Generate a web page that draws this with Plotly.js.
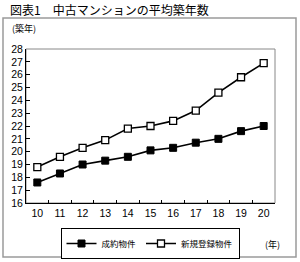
<!DOCTYPE html>
<html><head><meta charset="utf-8">
<script src="https://cdn.plot.ly/plotly-3.0.1.min.js"></script>
<style>html,body{margin:0;padding:0;background:#fff}#c{width:300px;height:262px}</style>
</head><body><div id="c"></div>
<script>
const years = ["10","11","12","13","14","15","16","17","18","19","20"];
const seiyaku = [17.6, 18.3, 19.0, 19.3, 19.6, 20.1, 20.3, 20.7, 21.0, 21.6, 22.0];
const shinki = [18.8, 19.6, 20.3, 20.9, 21.8, 22.0, 22.4, 23.2, 24.6, 25.8, 26.9];
const names = ["成約物件", "新規登録物件"];
const yTicks = [16,17,18,19,20,21,22,23,24,25,26,27,28];
const FONT = '"Noto Sans CJK JP", sans-serif';
const NUMFONT = '"Liberation Sans", Arial, sans-serif';

const traces = [
  {x: years, y: seiyaku, name: names[0], type: 'scatter', mode: 'lines+markers',
   line: {color: '#000', width: 1.6},
   marker: {symbol: 'square', size: 7, color: '#000', line: {color: '#000', width: 1}}},
  {x: years, y: shinki, name: names[1], type: 'scatter', mode: 'lines+markers',
   line: {color: '#000', width: 1.6},
   marker: {symbol: 'square', size: 7, color: '#fff', line: {color: '#000', width: 1.3}}}
];

// frame box in pixels
const FL = 3, FT = 18, FR = 296, FB = 257;
// plot area in pixels
const PL = 26, PT = 49, PR = 275, PB = 203;
const fx = v => (v - FL) / (FR - FL);
const fy = v => (FB - v) / (FB - FT);

const layout = {
  width: 300, height: 262,
  margin: {l: FL, r: 300 - FR, t: FT, b: 262 - FB, autoexpand: false},
  paper_bgcolor: '#fff', plot_bgcolor: '#fff',
  font: {family: FONT, size: 10, color: '#000'},
  showlegend: true,
  legend: {orientation: 'h', xref: 'container', yref: 'container',
    x: 150 / 300, xanchor: 'center', y: 1 - 228 / 262, yanchor: 'top',
    bordercolor: '#000', borderwidth: 1, font: {size: 8.5, family: FONT},
    itemwidth: 30, tracegroupgap: 0},
  xaxis: {type: 'category', range: [-0.5, 10.5], domain: [fx(PL), fx(PR)],
    showgrid: false, zeroline: false, automargin: false,
    showline: true, linecolor: '#000', linewidth: 1, ticks: 'inside', ticklen: 3,
    tickcolor: '#000', tickson: 'boundaries', tickfont: {size: 10.5, family: NUMFONT},
    fixedrange: true},
  yaxis: {range: [16, 28], tickvals: yTicks, domain: [fy(PB), fy(PT)],
    showgrid: false, zeroline: false, automargin: false,
    showline: true, linecolor: '#000', linewidth: 1, ticks: 'inside', ticklen: 4,
    tickcolor: '#000', tickfont: {size: 10.5, family: NUMFONT}, fixedrange: true},
  shapes: [
    {type: 'rect', xref: 'x domain', yref: 'y domain', x0: 0, x1: 1, y0: 0, y1: 1,
     line: {color: '#888', width: 1}, layer: 'below'},
    {type: 'rect', xref: 'paper', yref: 'paper', x0: 0, x1: 1, y0: 0, y1: 1,
     line: {color: '#9a9a9a', width: 1.5}, layer: 'above'}
  ],
  annotations: [
    {text: '図表1　中古マンションの平均築年数', xref: 'paper', yref: 'paper',
     x: fx(8), y: fy(10), xanchor: 'left', yanchor: 'middle', showarrow: false,
     font: {size: 12, family: FONT, color: '#000'}},
    {text: '(築年)', xref: 'paper', yref: 'paper',
     x: fx(10), y: fy(29), xanchor: 'left', yanchor: 'middle', showarrow: false,
     font: {size: 9, family: FONT, color: '#000'}},
    {text: '(年)', xref: 'paper', yref: 'paper',
     x: fx(282), y: fy(244), xanchor: 'right', yanchor: 'middle', showarrow: false,
     font: {size: 9, family: FONT, color: '#000'}}
  ]
};
Plotly.newPlot('c', traces, layout, {displayModeBar: false, staticPlot: true});
</script></body></html>
